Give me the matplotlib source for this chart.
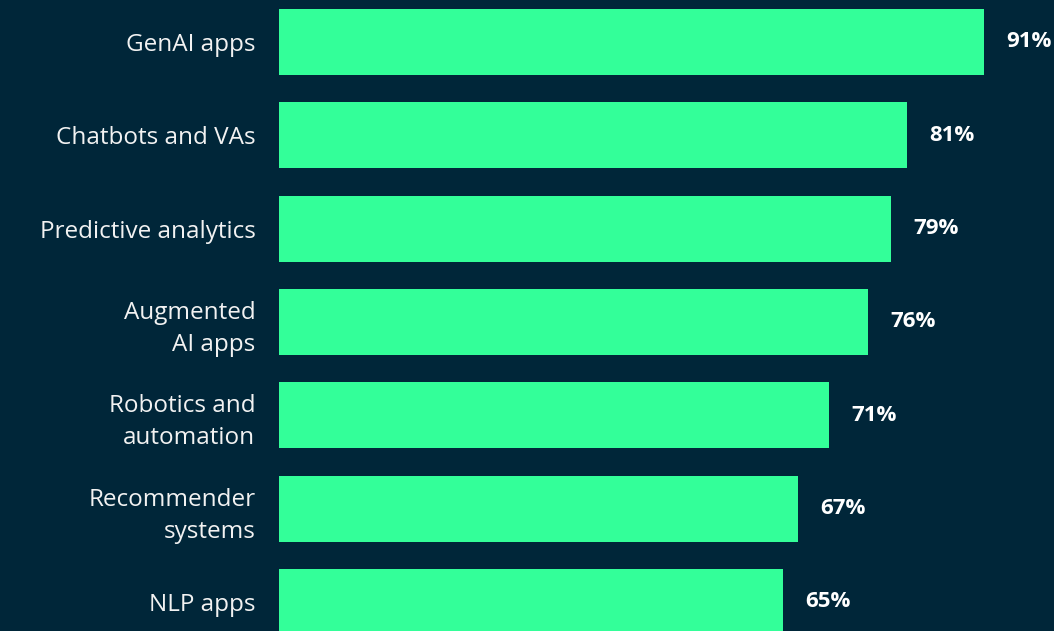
import matplotlib.pyplot as plt

categories = ["GenAI apps", "Chatbots and VAs", "Predictive analytics",
              "Augmented\nAI apps", "Robotics and\nautomation",
              "Recommender\nsystems", "NLP apps"]
values = [91, 81, 79, 76, 71, 67, 65]

bg = "#002639"
green = "#33ff99"

plt.rcParams['font.family'] = ['Open Sans', 'DejaVu Sans']

fig = plt.figure(figsize=(10.54, 6.31), dpi=100, facecolor=bg)
# axes spans from the bar base to the right edge
ax = fig.add_axes([279 / 1054, 0, 1 - 279 / 1054, 1])
ax.set_facecolor(bg)

pos = list(range(len(categories)))
ax.barh(pos, values, height=0.707, color=green)
ax.set_xlim(0, 100)
ax.set_ylim(6.311, -0.45)

ax.set_yticks(pos)
ax.set_yticklabels(categories, fontsize=17.5, color="#f2f2f2", linespacing=1.45)
ax.tick_params(axis='y', length=0, pad=17)
ax.set_xticks([])
for s in ax.spines.values():
    s.set_visible(False)

for p, v in zip(pos, values):
    ax.annotate(f"{v}%", (v, p), xytext=(22, 0), textcoords="offset pixels",
                va="center", ha="left", fontsize=16, fontweight="bold", color="white")

fig.savefig("out.png", dpi=100, facecolor=bg)
